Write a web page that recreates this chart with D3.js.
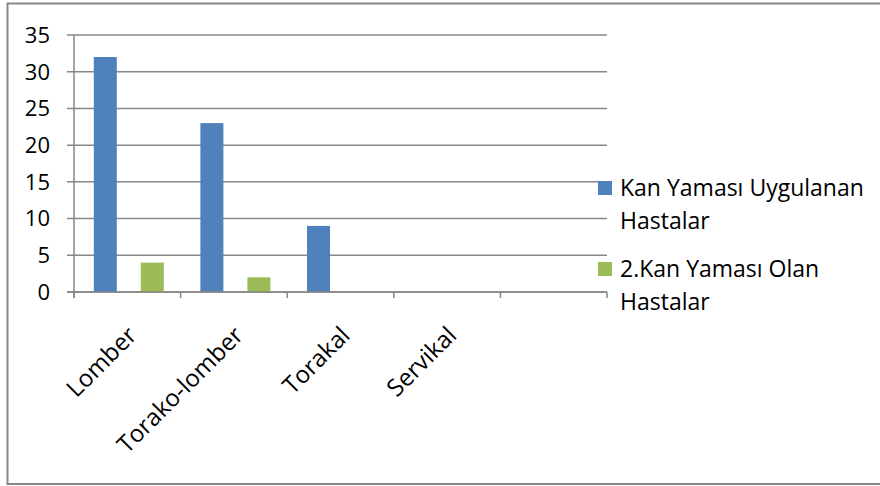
<!DOCTYPE html>
<html>
<head>
<meta charset="utf-8">
<script src="https://cdn.jsdelivr.net/npm/d3@7/dist/d3.min.js"></script>
<style>
  body { margin: 0; background: #fff; }
  svg text { font-family: "Open Sans", Lato, sans-serif; fill: #000; }
</style>
</head>
<body>
<div class="chart"></div>
<script>
"use strict";

// data
var categories = ["Lomber", "Torako-lomber", "Torakal", "Servikal", ""];
var seriesNames = [["Kan Yaması Uygulanan", "Hastalar"], ["2.Kan Yaması Olan", "Hastalar"]];
var kanYamasi = [32, 23, 9, 0, 0];
var ikinciKanYamasi = [4, 2, 0, 0, 0];
var yTicks = [0, 5, 10, 15, 20, 25, 30, 35];

var colors = ["#4F81BD", "#9BBB59"];
var gridColor = "#878787";

var width = 880, height = 486;
var plot = { left: 74, right: 607, top: 35, bottom: 292 };

var svg = d3.select(".chart").append("svg")
    .attr("width", width)
    .attr("height", height);

// outer chart frame
svg.append("rect")
    .attr("x", 7.5).attr("y", 3.5)
    .attr("width", 900).attr("height", 480.5)
    .attr("fill", "none")
    .attr("stroke", gridColor)
    .attr("stroke-width", 2);

var x = d3.scaleBand()
    .domain(d3.range(categories.length))
    .range([plot.left, plot.right]);

var y = d3.scaleLinear()
    .domain([0, 35])
    .range([plot.bottom, plot.top]);

// gridlines + y ticks
svg.append("g")
    .selectAll("line")
    .data(yTicks)
    .enter()
    .append("line")
    .attr("x1", plot.left - 7)
    .attr("x2", plot.right)
    .attr("y1", function(d) { return y(d); })
    .attr("y2", function(d) { return y(d); })
    .attr("stroke", gridColor)
    .attr("stroke-width", 1.5);

svg.append("g")
    .selectAll("text")
    .data(yTicks)
    .enter()
    .append("text")
    .attr("x", 50)
    .attr("y", function(d) { return y(d); })
    .attr("dy", "0.36em")
    .attr("text-anchor", "end")
    .attr("font-size", "22px")
    .text(function(d) { return d; });

// y axis line
svg.append("line")
    .attr("x1", plot.left).attr("x2", plot.left)
    .attr("y1", plot.top).attr("y2", plot.bottom + 6)
    .attr("stroke", gridColor)
    .attr("stroke-width", 1.5);

// bars
var barW = 23;
var offsets = [-23.5, 23.5];
var allSeries = [kanYamasi, ikinciKanYamasi];

allSeries.forEach(function(values, s)
{
    svg.append("g")
        .selectAll("rect")
        .data(values)
        .enter()
        .append("rect")
        .attr("x", function(d, i) { return x(i) + x.bandwidth() / 2 + offsets[s] - barW / 2 + 1.5; })
        .attr("y", function(d) { return y(d); })
        .attr("width", barW)
        .attr("height", function(d) { return y(0) - y(d); })
        .attr("fill", colors[s]);
});

// x axis line + ticks
svg.append("line")
    .attr("x1", plot.left - 7).attr("x2", plot.right)
    .attr("y1", plot.bottom).attr("y2", plot.bottom)
    .attr("stroke", gridColor)
    .attr("stroke-width", 1.5);

svg.append("g")
    .selectAll("line")
    .data(d3.range(categories.length + 1))
    .enter()
    .append("line")
    .attr("x1", function(d) { return plot.left + d * x.step(); })
    .attr("x2", function(d) { return plot.left + d * x.step(); })
    .attr("y1", plot.bottom)
    .attr("y2", plot.bottom + 6)
    .attr("stroke", gridColor)
    .attr("stroke-width", 1.5);

// category labels, rotated
svg.append("g")
    .selectAll("text")
    .data(categories)
    .enter()
    .append("text")
    .attr("transform", function(d, i)
    {
        var cx = x(i) + x.bandwidth() / 2 - 1;
        return "translate(" + cx + "," + 325 + ") rotate(-45)";
    })
    .attr("text-anchor", "end")
    .attr("dy", "0.7em")
    .attr("font-size", "24px")
    .text(function(d) { return d; });

// legend
var legendY = [181, 262];
seriesNames.forEach(function(lines, s)
{
    var g = svg.append("g");
    g.append("rect")
        .attr("x", 598).attr("y", legendY[s])
        .attr("width", 14).attr("height", 14)
        .attr("fill", colors[s]);
    lines.forEach(function(t, k)
    {
        g.append("text")
            .attr("x", 620)
            .attr("y", legendY[s] + 15 + k * 33)
            .attr("font-size", "23px")
            .text(t);
    });
});
</script>
</body>
</html>
